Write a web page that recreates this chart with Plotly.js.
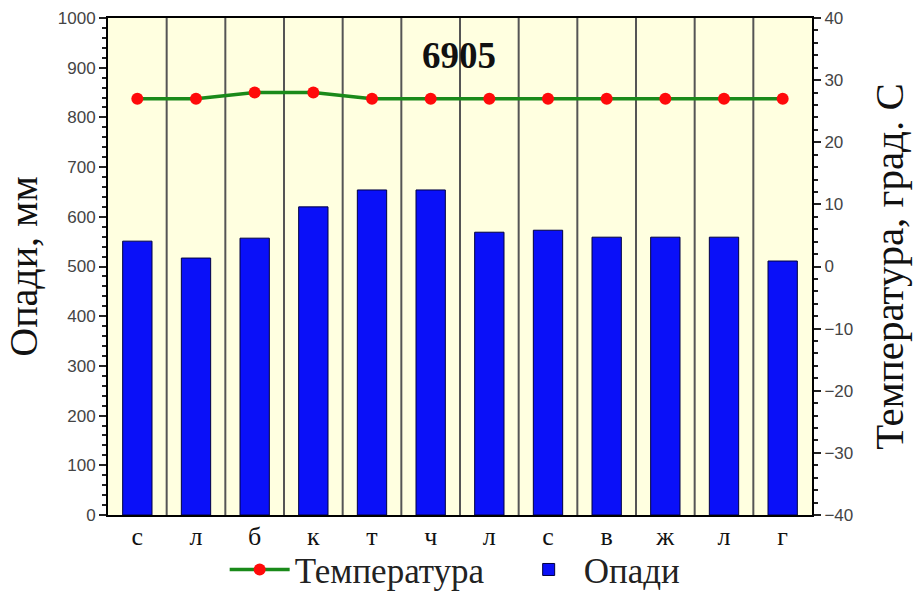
<!DOCTYPE html>
<html><head><meta charset="utf-8">
<script src="https://cdn.plot.ly/plotly-3.0.1.min.js"></script>
<style>html,body{margin:0;padding:0;background:#fff}#c{width:917px;height:591px}</style>
</head><body><div id="c"></div>
<script>
const monthLabels = ["с","л","б","к","т","ч","л","с","в","ж","л","г"];
const monthIndex = [1,2,3,4,5,6,7,8,9,10,11,12];
const precipitation = [551,517,557,620,654,654,569,573,559,559,559,511];
const temperature = [27,27,28,28,27,27,27,27,27,27,27,27];
const stationLabel = "6905";

const serif = "Liberation Serif, Times New Roman, serif";
const sans = "Liberation Sans, Arial, sans-serif";

const traces = [
  {type:"bar", x:monthIndex, y:precipitation, name:"Опади", width:0.5,
   marker:{color:"#0a10f8", line:{color:"#000040", width:1}}, yaxis:"y"},
  {type:"scatter", mode:"lines+markers", x:monthIndex, y:temperature, name:"Температура",
   line:{color:"#1a8a1a", width:3.5}, marker:{color:"#ff0a0a", size:12}, yaxis:"y2"}
];

const layout = {
  width:917, height:591,
  margin:{l:108, r:105, t:18, b:76, autoexpand:false},
  paper_bgcolor:"#ffffff", plot_bgcolor:"#ffffe0",
  showlegend:true,
  legend:{orientation:"h", x:0.245, xanchor:"left", xref:"container", y:0.036, yanchor:"middle", yref:"container",
          bgcolor:"rgba(0,0,0,0)", entrywidth:214, entrywidthmode:"pixels", itemwidth:60,
          font:{family:serif, size:35, color:"#222"}, traceorder:"reversed"},
  xaxis:{range:[0.5,12.5], tickmode:"array", tickvals:monthIndex, ticktext:monthLabels,
         tickfont:{family:serif, size:26, color:"#111"}, showgrid:false, zeroline:false,
         ticks:"", ticklabelstandoff:-3, showline:true, linecolor:"#000", linewidth:2, mirror:true, fixedrange:true},
  yaxis:{range:[0,1000], dtick:100, ticks:"outside", ticklen:7, tickwidth:2, tickcolor:"#222",
         minor:{dtick:20, ticks:"outside", ticklen:4, tickcolor:"#222", showgrid:false},
         showgrid:false, zeroline:false, showline:true, linecolor:"#000", linewidth:2,
         tickfont:{family:sans, size:17, color:"#444"},
         title:{text:"Опади, мм", font:{family:serif, size:40, color:"#111"}, standoff:8}},
  yaxis2:{range:[-40,40], dtick:10, overlaying:"y", side:"right", ticks:"outside", ticklen:7,
          tickwidth:2, tickcolor:"#222",
          minor:{dtick:2, ticks:"outside", ticklen:4, tickcolor:"#222", showgrid:false},
          showgrid:false, zeroline:false, showline:true, linecolor:"#000", linewidth:2,
          tickfont:{family:sans, size:17, color:"#444"},
          title:{text:"Температура, град. С", font:{family:serif, size:41, color:"#111"}, standoff:22}},
  shapes: monthIndex.slice(0,11).map(v=>({type:"line", xref:"x", yref:"paper", x0:v+0.5, x1:v+0.5,
          y0:0, y1:1, line:{color:"#555", width:2}, layer:"below"})),
  annotations:[{text:"<b>"+stationLabel+"</b>", xref:"paper", yref:"paper", x:0.498, y:0.925,
                yanchor:"middle", xanchor:"center",
                showarrow:false, font:{family:serif, size:37, color:"#111"}}]
};
Plotly.newPlot("c", traces, layout, {displayModeBar:false, staticPlot:true});
</script></body></html>
